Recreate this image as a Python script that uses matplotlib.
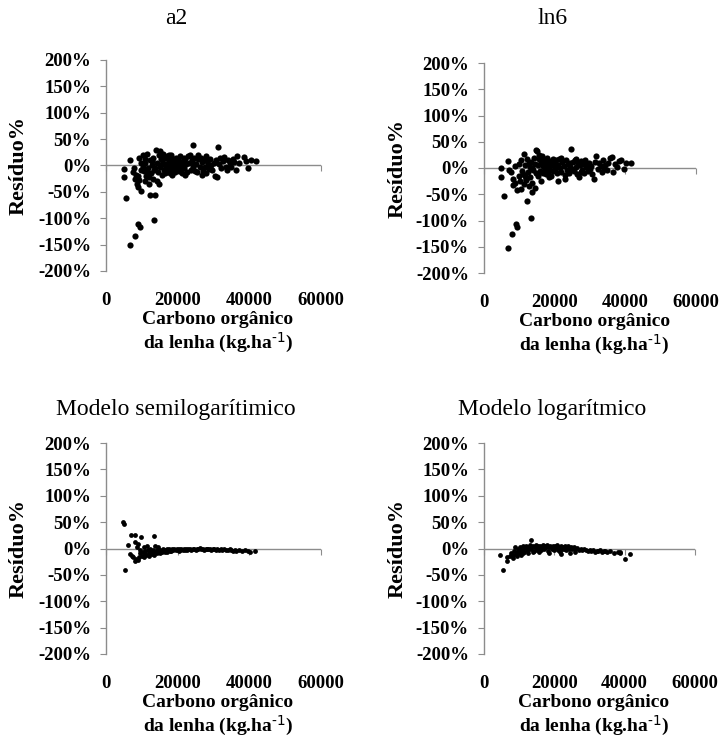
import matplotlib
matplotlib.use("Agg")
import matplotlib.pyplot as plt
import matplotlib.ticker as ticker

plt.rcParams['font.family'] = ['Liberation Serif', 'DejaVu Serif']
plt.rcParams['mathtext.default'] = 'regular'
plt.rcParams['axes.unicode_minus'] = False

# Data (carbon kg/ha, residual %)
A2_X = [5100, 5100, 5700, 6700, 6800, 8000, 8800, 9500, 9800, 7500, 8200, 8600, 9000, 9300, 8400, 9700, 9200, 9900, 7800, 8900,
        10200, 10500, 10800, 11000, 11200, 11500, 11700, 12000, 12200, 12400, 12500, 12700, 13000, 13200, 13500, 13700, 13800,
        14000, 14200, 14300, 14500, 14700, 14900, 15000, 10300, 11400, 12800, 13400, 10900, 11900,
        15200, 15400, 15600, 15800, 16000, 16200, 16400, 16600, 16800, 17000, 17200, 17400, 17600, 17800, 18000, 18200, 18400,
        18600, 18800, 19000, 19200, 19400, 19600, 19800, 15500, 16500, 17500, 18500, 19500,
        20000, 20300, 20600, 20900, 21200, 21500, 21800, 22100, 22400, 22700, 23000, 23300, 23600, 23900, 24200, 24400, 24600,
        24900, 20500, 21000, 22000, 23500, 24000, 21700,
        25200, 25500, 25800, 26100, 26400, 26700, 27000, 27300, 27600, 27900, 28200, 28500, 28800, 29100, 29400, 29700, 30000,
        25600, 26800, 28000,
        30300, 30600, 30900, 31300, 31500, 31800, 32200, 32600, 33000, 33500, 34000, 34500, 35000, 35500, 36200, 36500, 37000,
        38400, 39000, 39700, 40500, 41800, 33800, 35800]
A2_Y = [-6, -22, -61, 10, -151, -134, -111, -117, -48, -12, -25, -35, -40, -28, -18, 5, 15, -8, -5, -20,
        20, -10, -30, 5, -20, 22, -5, -35, 10, -56, -15, 0, -25, 15, -103, -56, -5,
        30, -30, 5, -12, 20, -35, 28, -2, -12, 8, -8, 12, -22,
        -2, 12, -18, 5, 22, -8, 15, 0, -12, 18, 5, -5, 10, -15, 20, 2, -8,
        12, -3, 8, -12, 15, 0, -6, 3, -15, 20, -18, 5,
        10, -10, 18, 0, -15, 8, -5, 12, 2, -12, 18, 5, -8, 10, -3, 38, 15,
        -10, 3, -4, -18, 20, 6, 14,
        2, -12, 12, -3, 15, 6, -10, 10, -2, -15, 8, 3, -6, 12, 0, -8, 5,
        20, -18, 18,
        -20, 10, -22, 35, 2, 14, -5, 8, 16, -3, 10, 5, -2, 12, -8, 18, 4,
        16, 8, -5, 10, 8, -8, 6]

LN6_X = [4900, 4900, 5600, 6700, 6700, 7900, 9000, 9300, 12300, 13200, 8100, 9400, 13500, 7500, 8300, 8700, 9800, 10000, 8800, 7200,
         10300, 10600, 10900, 11200, 11350, 11600, 11900, 12100, 12400, 12600, 12900, 13100, 13400, 13700, 13900, 14100, 14300,
         14650, 14800, 15000, 10800, 11700, 12700, 13600, 14400, 10500, 12000,
         15200, 15400, 15600, 15800, 16000, 16200, 16400, 16600, 16800, 17000, 17200, 17400, 17600, 17800, 18000, 18200, 18400,
         18600, 18800, 19000, 19200, 19400, 19600, 19800, 15500, 16500, 17500, 18500, 19500,
         20000, 20300, 20600, 20900, 21000, 21300, 21600, 21900, 22200, 22500, 22800, 23100, 23400, 23700, 24000, 24300, 24500,
         24800, 20500, 21800, 23000, 24200,
         25100, 25400, 25700, 26000, 26300, 26600, 26900, 27200, 27500, 27800, 28100, 28400, 28700, 29000, 29300, 29600, 29900,
         26000, 27400, 28900,
         30300, 30600, 31070, 31400, 31800, 32200, 32600, 33000, 33400, 33800, 34200, 34700, 35200, 35700, 36250, 36600, 37000,
         37500, 38300, 38800, 39500, 40200, 41600, 34000]
LN6_Y = [0, -18, -54, 13, -152, -125, -106, -112, -63, -96, -33, -41, -45, -8, -20, -28, -15, 8, 3, -3,
         -25, 15, -12, -30, 27, 5, -20, 18, -8, -35, 2, -18, 12, -28, -4, 20, -38,
         34, -10, 33, -5, -15, 10, 0, 8, -40, -22,
         5, -15, 18, -5, 10, -25, 22, 3, -10, 15, -2, 8, -12, 20, 2, -8, 14,
         -3, 10, -15, 5, 18, -6, 8, 25, -8, 0, -18, 12,
         -2, 15, -10, 6, -25, 18, 0, -8, 12, 3, -14, 16, -4, 8, -10, 10, 37,
         -2, 5, 20, -20, 2,
         12, -6, 16, 2, -12, 10, -18, 5, 14, -4, 8, -10, 15, 2, -6, 10, -2,
         18, -8, 6,
         4, -12, -21, 12, 22, -2, 10, 3, -8, 15, 5, -4, 10, 20, 21, -8, 8,
         2, 13, 15, -2.5, 10, 9, -2]

SEMI_X = [4830, 4900, 6975, 8090, 9765, 13300, 6230, 8090, 9020, 5300, 6700, 7600, 8090, 9020, 9950, 10880, 7300, 8500, 9500,
          8700, 9600, 10200, 10500, 11000, 11300, 11600, 11900, 12200, 12500, 12800, 13100, 13400, 13700, 14000, 14300, 14600,
          14900, 15200, 15500, 15800, 16100, 16400, 16700, 17000, 17300, 17600, 17900, 18200, 18500, 18800, 19100, 19400, 19700,
          20000, 20300, 20600, 21000, 21400, 21800, 22200, 22600, 23000, 23400, 23800, 24200, 24600, 25000, 25400, 25800, 26200,
          26600, 27000, 27400, 27800, 28200, 28600, 29000, 29400, 29800, 30200, 30600, 31000, 31500, 32000, 32500, 33000, 33500,
          34000, 34500, 35000, 35500, 36000, 36400, 37000, 38000, 38800, 39700, 40300, 41600, 12000, 13500, 15000, 16500, 11500,
          14500, 17000, 10700, 9300, 18000, 20500, 22000]
SEMI_Y = [50, 46, 25, 25, 22, 23, 7, 12, 9, -40, -10, -17, -24, -21, -14, -10, -14, -19, -8,
          3, -3, -6, 2, -5, -12, -3, -8, -1, -6, -10, -2, -7, 5, -4, -8, -1,
          -5, -2, -6, 0, -4, -2, -5, -1, -3, 0, -4, -2, -1, -3, 0, -2, -1,
          -3, 0, -2, -1, -2, 0, -1, -2, 0, -1, -3, 0, -1, -2, 0, -1, 1,
          -1, 0, -2, 0, -1, 0, -1, -2, 0, -1, -2, -1, -2, -1, -2, -1, -3,
          -2, -1, -3, -4, -2, -5, -3, -4, -3, -4, -6, -5, -14, -12, -9, -7, 4,
          2, -6, -17, -16, -5, -4, -3]

LOG_X = [5400, 4450, 6530, 6440, 7380, 13440, 39970, 41400, 38600, 35800, 7600, 8200, 8400, 8800, 9000, 9300, 9600, 9900,
         10200, 10500, 10800, 11100, 11400, 11700, 12000, 12300, 12600, 12900, 13200, 13500, 13800, 14100, 14400, 14700, 15000,
         15300, 15600, 15900, 16200, 16500, 16800, 17100, 17400, 17700, 18000, 18300, 18600, 18900, 19200, 19500, 19800, 20100,
         20400, 20700, 21000, 21300, 21600, 21900, 22200, 22500, 22800, 23100, 23400, 23700, 24000, 24300, 24600, 25000, 25500,
         26000, 26500, 27000, 27500, 28000, 28500, 29000, 29500, 30000, 30500, 31000, 31500, 32000, 32500, 33000, 33500, 34000,
         34500, 35000, 37000, 38000, 38800, 9500, 10500, 12500, 15500, 18500, 21500, 24500, 22000, 11000, 14000, 26000, 8200]
LOG_Y = [-41, -12, -17, -23, -14, 17, -20, -10, -7, -4, -8, -12, -4, 2, -10, -6, 0, -8,
         3, -5, -2, 4, -6, 1, 5, -3, 3, -1, 6, 0, 4, -4, 3, 6, -2,
         4, 1, 5, -3, 3, 6, -1, 4, 2, 6, -4, 3, 5, 0, 4, -2, 5,
         2, 6, -3, 3, 1, 5, -1, 3, 0, 4, -2, 2, 5, -1, 2, 0, 3,
         -1, 1, -2, 0, -3, -1, -2, -4, -2, -5, -3, -6, -4, -5, -3, -6, -5,
         -4, -7, -8, -6, -9, -15, -12, -8, -6, -8, -7, -9, -10, -9, -7, -6, -18]

TITLES = ['a2', 'ln6', 'Modelo semilogarítimico', 'Modelo logarítmico']
X_TICKS = [0, 20000, 40000, 60000]
Y_TICKS = [-200, -150, -100, -50, 0, 50, 100, 150, 200]

GRAY = '#8c8c8c'
W, H = 722, 736

fig = plt.figure(figsize=(W / 100, H / 100), dpi=100)

# axes boxes in pixels: (left, top, right, bottom)
boxes = [(106, 60, 321, 271), (484, 63, 696, 273), (106, 443, 321, 654), (484, 443, 695, 654)]
title_pos = [(176, 18), (553, 18), (176, 410), (552, 410)]
data = [(A2_X, A2_Y, 20), (LN6_X, LN6_Y, 20), (SEMI_X, SEMI_Y, 12), (LOG_X, LOG_Y, 12)]

for (l, t, r, b), (tx, ty), title, (xs, ys, ms) in zip(boxes, title_pos, TITLES, data):
    ax = fig.add_axes([l / W, 1 - b / H, (r - l) / W, (b - t) / H])
    ax.scatter(xs, ys, s=ms, color='black', linewidths=0, zorder=5, clip_on=False)
    ax.set_xlim(0, 60000)
    ax.set_ylim(-200, 200)

    for side in ['top', 'right', 'bottom']:
        ax.spines[side].set_visible(False)
    ax.spines['left'].set_color(GRAY)
    ax.spines['left'].set_linewidth(1.0)

    ax.set_yticks(Y_TICKS)
    ax.yaxis.set_major_formatter(ticker.PercentFormatter(100, decimals=0))
    ax.set_xticks(X_TICKS)
    ax.set_xticklabels([str(v) for v in X_TICKS])
    ax.tick_params(axis='y', length=4.3, color=GRAY, pad=6.5, labelsize=13.5)
    ax.tick_params(axis='x', length=0, pad=15, labelsize=13.5)
    for lab in ax.get_xticklabels() + ax.get_yticklabels():
        lab.set_fontweight('bold')

    # zero line with its own tick marks (Excel style)
    ax.axhline(0, color=GRAY, lw=1.0, zorder=1)
    sec = ax.secondary_xaxis(0.5)
    sec.set_xticks(X_TICKS)
    sec.set_xticklabels([])
    sec.xaxis.set_ticks_position('bottom')
    sec.tick_params(axis='x', direction='out', length=4, color=GRAY,
                    labelbottom=False, labeltop=False)
    for sp in sec.spines.values():
        sp.set_visible(False)

    ax.set_ylabel('Resíduo%', fontsize=16, fontweight='bold')
    ax.yaxis.set_label_coords(-0.36, 0.5)
    ax.set_xlabel('Carbono orgânico\nda lenha (kg.ha$^{\\text{-1}}$)', fontsize=14, fontweight='bold',
                  linespacing=1.12)
    ax.xaxis.set_label_coords(0.52, -0.19)

    fig.text(tx / W, 1 - ty / H, title, ha='center', va='center', fontsize=17)

fig.savefig('out.png', dpi=100)
